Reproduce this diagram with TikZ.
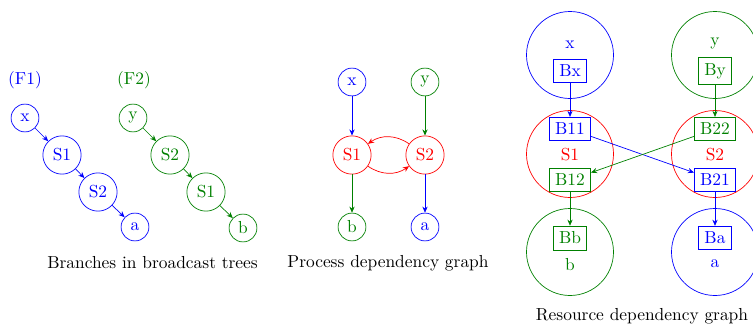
\documentclass[tikz,border=0pt]{standalone}
\usetikzlibrary{arrows.meta}
\definecolor{dgreen}{rgb}{0,0.5,0}
\begin{document}
\begin{tikzpicture}[x=0.5747pt,y=-0.5747pt,
  sm/.style={circle,draw,minimum size=16pt,inner sep=0pt},
  md/.style={circle,draw,minimum size=22pt,inner sep=0pt},
  big/.style={circle,draw,minimum size=50pt,inner sep=0pt},
  bx/.style={draw,rectangle},
  arr/.style={-{Stealth[length=3.5pt,width=3pt]}}]
\useasboundingbox (0,0) rectangle (753,324);
% Panel 1
\node[blue] (F1) at (25,80) {(F1)};
\node[sm,blue] (x1) at (25,118) {x};
\node[md,blue] (s11) at (62,155) {S1};
\node[md,blue] (s21) at (98,192) {S2};
\node[sm,blue] (a1) at (135,227) {a};
\draw[arr,blue] (x1) -- (s11);
\draw[arr,blue] (s11) -- (s21);
\draw[arr,blue] (s21) -- (a1);
\node[dgreen] (F2) at (134,80) {(F2)};
\node[sm,dgreen] (y1) at (133,118) {y};
\node[md,dgreen] (s22) at (170,155) {S2};
\node[md,dgreen] (s12) at (206,192) {S1};
\node[sm,dgreen] (b1) at (243,228) {b};
\draw[arr,dgreen] (y1) -- (s22);
\draw[arr,dgreen] (s22) -- (s12);
\draw[arr,dgreen] (s12) -- (b1);
\node (cap1) at (152.5,263) {Branches in broadcast trees};
% Panel 2
\node[sm,blue] (x2) at (352,82) {x};
\node[sm,dgreen] (y2) at (425,82) {y};
\node[md,red] (p1) at (352,155) {S1};
\node[md,red] (p2) at (425,155) {S2};
\node[sm,dgreen] (b2) at (352,227) {b};
\node[sm,blue] (a2) at (425,227) {a};
\draw[arr,blue] (x2) -- (p1);
\draw[arr,dgreen] (y2) -- (p2);
\draw[arr,dgreen] (p1) -- (b2);
\draw[arr,blue] (p2) -- (a2);
\draw[arr,red] (p2) to[bend right=35] (p1);
\draw[arr,red] (p1) to[bend right=35] (p2);
\node (cap2) at (388,263) {Process dependency graph};
% Panel 3
\node[big,blue] (cx) at (570,55) {};
\node[blue] (tx) at (570,45) {x};
\node[bx,blue] (Bx) at (570,71) {Bx};
\node[big,red] (c1) at (570,154) {};
\node[red] (t1) at (570,155) {S1};
\node[bx,blue] (B11) at (570,129) {B11};
\node[bx,dgreen] (B12) at (570,180) {B12};
\node[big,dgreen] (cb) at (570,252) {};
\node[bx,dgreen] (Bb) at (570,238) {Bb};
\node[dgreen] (tb) at (570,265) {b};
\node[big,dgreen] (cy) at (715,55) {};
\node[dgreen] (ty) at (715,44) {y};
\node[bx,dgreen] (By) at (715,71) {By};
\node[big,red] (c2) at (715,154) {};
\node[red] (t2) at (715,155) {S2};
\node[bx,dgreen] (B22) at (715,129) {B22};
\node[bx,blue] (B21) at (715,180) {B21};
\node[big,blue] (ca) at (715,252) {};
\node[bx,blue] (Ba) at (715,238) {Ba};
\node[blue] (ta) at (715,264) {a};
\draw[arr,blue] (Bx) -- (B11);
\draw[arr,dgreen] (By) -- (B22);
\draw[arr,blue] (B11) -- (B21);
\draw[arr,dgreen] (B22) -- (B12);
\draw[arr,dgreen] (B12) -- (Bb);
\draw[arr,blue] (B21) -- (Ba);
\node (cap3) at (642,316) {Resource dependency graph};
\end{tikzpicture}
\end{document}
